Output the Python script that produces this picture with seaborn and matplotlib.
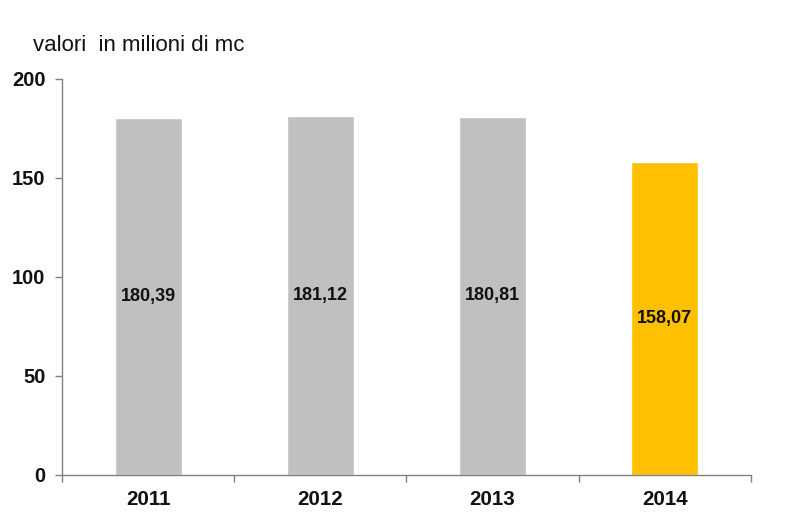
import pandas as pd
import matplotlib
matplotlib.use('Agg')
import matplotlib.pyplot as plt
import seaborn as sns

years = ['2011', '2012', '2013', '2014']
volumes = [180.39, 181.12, 180.81, 158.07]
labels = ['180,39', '181,12', '180,81', '158,07']
colors = ['#C0C0C0', '#C0C0C0', '#C0C0C0', '#FFC000']

df = pd.DataFrame({'anno': years, 'valore': volumes})

sns.set_style('white')
plt.rcParams['font.family'] = ['Liberation Sans', 'DejaVu Sans']

fig = plt.figure(figsize=(7.88, 5.19), dpi=100)
ax = fig.add_axes([0.0787, 0.0848, 0.8743, 0.763])

sns.barplot(data=df, x='anno', y='valore', hue='anno', palette=colors,
            width=0.39, legend=False, ax=ax, saturation=1)

# value labels in the middle of the bars
for i, (v, lab) in enumerate(zip(volumes, labels)):
    ax.text(i, v / 2, lab, ha='center', va='center', fontsize=13,
            fontweight='bold', color='#111111')

ax.set_xlim(-0.5, 3.5)
ax.set_ylim(0, 200)
ax.set_yticks([0, 50, 100, 150, 200])
ax.set_xlabel('')
ax.set_ylabel('')

for s in ['top', 'right']:
    ax.spines[s].set_visible(False)
for s in ['left', 'bottom']:
    ax.spines[s].set_color('#808080')
    ax.spines[s].set_linewidth(1.0)

ax.tick_params(axis='y', which='major', left=True, direction='out', length=5,
               width=1, color='#808080', labelsize=14.5, pad=7)
ax.tick_params(axis='x', which='major', bottom=False, length=0,
               labelsize=14.8, pad=11)
ax.set_xticks([-0.5, 0.5, 1.5, 2.5, 3.5], minor=True)
ax.tick_params(axis='x', which='minor', bottom=True, direction='out',
               length=5, width=1, color='#808080')
for t in ax.get_xticklabels() + ax.get_yticklabels():
    t.set_fontweight('bold')
    t.set_color('#111111')

fig.text(0.042, 0.913, 'valori  in milioni di mc', fontsize=16, color='#111111',
         ha='left', va='center')

plt.savefig('out.png', dpi=100)
plt.close()
